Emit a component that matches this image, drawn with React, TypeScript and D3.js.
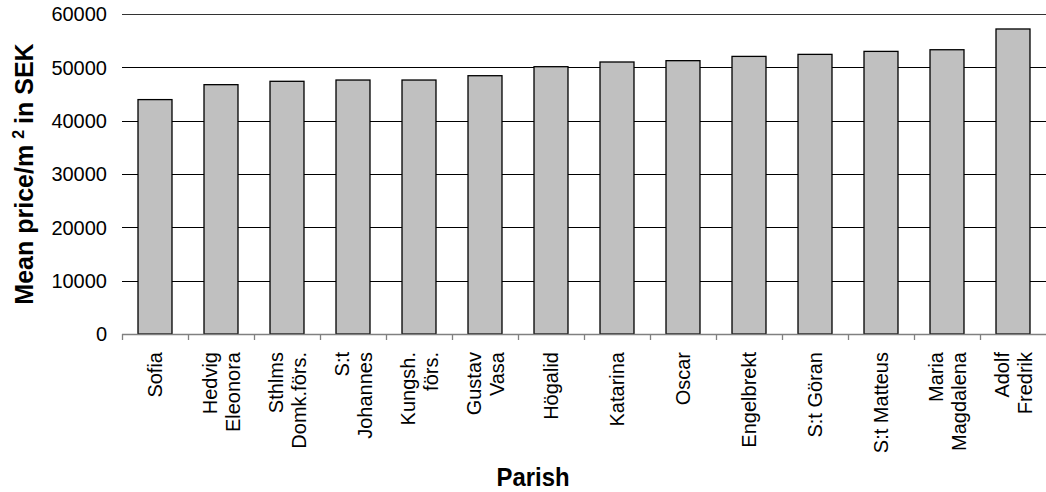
import * as d3 from "d3";

const categories = [
  "Sofia",
  "Hedvig\nEleonora",
  "Sthlms\nDomk.förs.",
  "S:t\nJohannes",
  "Kungsh.\nförs.",
  "Gustav\nVasa",
  "Högalid",
  "Katarina",
  "Oscar",
  "Engelbrekt",
  "S:t Göran",
  "S:t Matteus",
  "Maria\nMagdalena",
  "Adolf\nFredrik",
];
const meanPrice = [
  43950, 46750, 47380, 47620, 47620, 48430, 50120, 51000, 51250, 52050, 52430,
  52990, 53300, 57190,
];
const yTicks = [0, 10000, 20000, 30000, 40000, 50000, 60000];

const W = 1046;
const H = 492;
const M = { top: 14, right: 0, bottom: 158, left: 122 };
const FONT = "'Liberation Sans', Arial, sans-serif";

export default function App() {
  const x = d3
    .scaleBand<string>()
    .domain(categories)
    .range([M.left, W - M.right])
    .paddingInner(0.485)
    .paddingOuter(0.2425);
  const y = d3
    .scaleLinear()
    .domain([0, 60000])
    .range([H - M.bottom, M.top]);
  const step = x.step();
  const y0 = y(0);

  return (
    <svg
      width={W}
      height={H}
      style={{ position: "absolute", left: 0, top: 0, background: "#fff" }}
      fontFamily={FONT}
    >
      {/* gridlines */}
      {yTicks.slice(1).map((t) => (
        <line
          key={t}
          x1={M.left}
          x2={W - M.right}
          y1={Math.round(y(t)) + 0.5}
          y2={Math.round(y(t)) + 0.5}
          stroke={t === 60000 ? "#333" : "#000"}
          strokeWidth={1}
        />
      ))}
      {/* y tick labels */}
      {yTicks.map((t) => (
        <text
          key={t}
          x={107}
          y={y(t)}
          dy="0.36em"
          textAnchor="end"
          fontSize={20}
          fill="#000"
        >
          {t}
        </text>
      ))}
      {/* bars */}
      {categories.map((c, i) => (
        <rect
          key={c}
          x={x(c)}
          y={y(meanPrice[i])}
          width={x.bandwidth()}
          height={y0 - y(meanPrice[i])}
          fill="#c0c0c0"
          stroke="#000"
          strokeWidth={1.3}
        />
      ))}
      {/* x axis */}
      <line
        x1={M.left}
        x2={W - M.right}
        y1={Math.round(y0) + 0.5}
        y2={Math.round(y0) + 0.5}
        stroke="#808080"
        strokeWidth={1.3}
      />
      {categories.map((c, i) => {
        const tx = Math.round(M.left + i * step) + 0.5;
        return (
          <line
            key={"t" + c}
            x1={tx}
            x2={tx}
            y1={y0}
            y2={y0 + 6}
            stroke="#808080"
            strokeWidth={1.3}
          />
        );
      })}
      {/* category labels */}
      {categories.map((c) => {
        const lines = c.split("\n");
        const cx = (x(c) ?? 0) + x.bandwidth() / 2;
        const lh = 23;
        return lines.map((ln, j) => {
          const lx = cx + (j - (lines.length - 1) / 2) * lh;
          return (
            <text
              key={c + j}
              transform={`translate(${lx},352) rotate(-90)`}
              textAnchor="end"
              dy="0.35em"
              fontSize={20}
              fill="#000"
            >
              {ln}
            </text>
          );
        });
      })}
      {/* axis titles */}
      <text
        transform="translate(533,486) scale(0.92,1)"
        textAnchor="middle"
        fontSize={26}
        fontWeight="bold"
        fill="#000"
      >
        Parish
      </text>
      <text
        transform={`translate(33,${(M.top + y0) / 2}) rotate(-90)`}
        textAnchor="middle"
        fontSize={25}
        fontWeight="bold"
        fill="#000"
      >
        Mean price/m
        <tspan dx={6} dy={-9} fontSize={16}>
          2
        </tspan>
        <tspan dx={6} dy={9}>
          in SEK
        </tspan>
      </text>
    </svg>
  );
}
